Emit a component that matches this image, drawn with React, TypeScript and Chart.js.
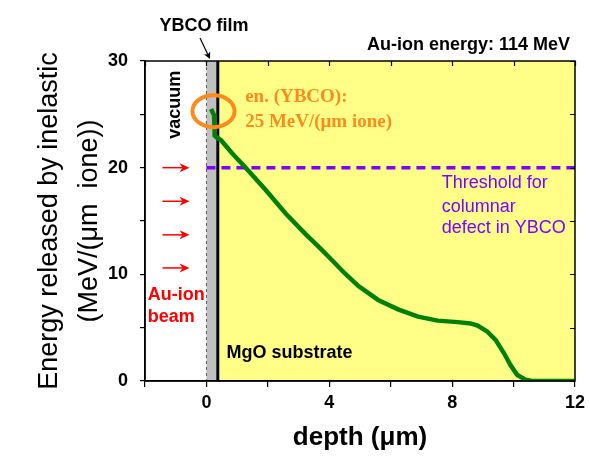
import React, { useEffect, useRef } from 'react';
import { Chart, registerables } from 'chart.js';

Chart.register(...registerables);

// ---- data ----
const depth = [0.15, 0.25, 0.27, 0.35, 0.47, 0.85, 1.28, 1.93, 2.58, 3.22, 3.65, 4.1, 4.5, 4.95, 5.59, 6.24, 6.89, 7.53, 8.18, 8.6, 8.83, 9.15, 9.42, 9.69, 9.9, 10.12, 10.39, 10.6, 12];
const energy = [25.5, 24.9, 23.0, 22.8, 22.6, 21.3, 20.0, 17.9, 15.7, 13.8, 12.6, 11.3, 10.1, 8.9, 7.6, 6.72, 6.03, 5.66, 5.52, 5.4, 5.2, 4.62, 3.84, 2.6, 1.5, 0.56, 0.12, 0, 0];
const thresholdDepth = [0, 12];
const thresholdEnergy = [20, 20];
const xTickLabels = [0, 4, 8, 12];
const yTickLabels = [0, 10, 20, 30];
const xTickSteps = [-2, 0, 2, 4, 6, 8, 10, 12];
const yTickSteps = [0, 5, 10, 15, 20, 25, 30];
const filmStart = 0;
const filmEnd = 0.33;
const substrateStart = 0.37;
const beamArrowY = [20, 16.85, 13.7, 10.6];
const beamArrowX = [-1.43, -0.55];

const SANS = '"Liberation Sans", Arial, sans-serif';
const SERIF = '"Liberation Serif", "Times New Roman", serif';

const backgroundPlugin = {
  id: 'regions',
  beforeDraw(chart: any) {
    const { ctx, chartArea: a, scales } = chart;
    const x = scales.x;
    ctx.save();
    ctx.fillStyle = '#ffffff';
    ctx.fillRect(0, 0, chart.width, chart.height);
    const xs = x.getPixelForValue(substrateStart);
    ctx.fillStyle = '#ffff88';
    ctx.fillRect(xs, a.top, a.right - xs, a.bottom - a.top);
    const x0 = x.getPixelForValue(filmStart);
    const x1 = x.getPixelForValue(filmEnd);
    ctx.fillStyle = '#c0c0c0';
    ctx.fillRect(x0, a.top, x1 - x0, a.bottom - a.top);
    ctx.strokeStyle = '#555';
    ctx.lineWidth = 1;
    ctx.setLineDash([3, 3]);
    ctx.beginPath();
    ctx.moveTo(x0, a.top);
    ctx.lineTo(x0, a.bottom);
    ctx.stroke();
    ctx.setLineDash([]);
    ctx.strokeStyle = '#000';
    ctx.lineWidth = 3;
    ctx.beginPath();
    ctx.moveTo(xs, a.top);
    ctx.lineTo(xs, a.bottom);
    ctx.stroke();
    ctx.restore();
  },
};

function arrow(ctx: any, x1: number, y1: number, x2: number, y2: number, color: string, lw: number, head: number, hw: number) {
  const ang = Math.atan2(y2 - y1, x2 - x1);
  ctx.strokeStyle = color;
  ctx.fillStyle = color;
  ctx.lineWidth = lw;
  ctx.beginPath();
  ctx.moveTo(x1, y1);
  ctx.lineTo(x2 - Math.cos(ang) * head * 0.6, y2 - Math.sin(ang) * head * 0.6);
  ctx.stroke();
  const bx = x2 - Math.cos(ang) * head;
  const by = y2 - Math.sin(ang) * head;
  const nx = -Math.sin(ang) * hw;
  const ny = Math.cos(ang) * hw;
  const mx = x2 - Math.cos(ang) * head * 0.7;
  const my = y2 - Math.sin(ang) * head * 0.7;
  ctx.beginPath();
  ctx.moveTo(x2, y2);
  ctx.lineTo(bx + nx, by + ny);
  ctx.lineTo(mx, my);
  ctx.lineTo(bx - nx, by - ny);
  ctx.closePath();
  ctx.fill();
}

const annotationPlugin = {
  id: 'annotations',
  afterDraw(chart: any) {
    const { ctx, chartArea: a, scales } = chart;
    const x = scales.x;
    const y = scales.y;
    const px = (v: number) => x.getPixelForValue(v);
    const py = (v: number) => y.getPixelForValue(v);
    ctx.save();

    // frame
    ctx.strokeStyle = '#000';
    ctx.lineWidth = 1.5;
    ctx.strokeRect(a.left, a.top, a.right - a.left, a.bottom - a.top);
    // mirror ticks (inward)
    ctx.lineWidth = 1.2;
    ctx.beginPath();
    xTickSteps.forEach((v) => {
      const p = Math.round(px(v)) + 0.5;
      ctx.moveTo(p, a.top);
      ctx.lineTo(p, a.top + 5);
    });
    yTickSteps.forEach((v) => {
      const p = Math.round(py(v)) + 0.5;
      ctx.moveTo(a.right, p);
      ctx.lineTo(a.right - 5, p);
    });
    ctx.stroke();

    // titles above plot
    ctx.fillStyle = '#000';
    ctx.textBaseline = 'middle';
    ctx.font = `bold 18px ${SANS}`;
    ctx.textAlign = 'center';
    ctx.fillText('YBCO film', 204, 26);
    ctx.textAlign = 'right';
    ctx.fillText('Au-ion energy: 114 MeV', 570, 45);
    arrow(ctx, 200, 38, 210, 59, '#000', 1.2, 7, 3.5);

    // vacuum label
    ctx.save();
    ctx.translate(px(-1.03), py(25.9));
    ctx.rotate(-Math.PI / 2);
    ctx.textAlign = 'center';
    ctx.font = `bold 18px ${SANS}`;
    ctx.fillText('vacuum', 0, 0);
    ctx.restore();

    // MgO substrate
    ctx.textAlign = 'left';
    ctx.font = `bold 18px ${SANS}`;
    ctx.fillStyle = '#000';
    ctx.fillText('MgO substrate', px(0.65), py(2.6));

    // beam arrows
    beamArrowY.forEach((v) => {
      arrow(ctx, px(beamArrowX[0]), py(v), px(beamArrowX[1]), py(v), '#ff0000', 1.5, 10, 4.5);
    });
    ctx.fillStyle = '#ff0000';
    ctx.font = `bold 18px ${SANS}`;
    ctx.fillText('Au-ion', px(-1.91), py(8.06));
    ctx.fillText('beam', px(-1.91), py(6.0));

    // orange circle + text
    ctx.strokeStyle = '#ff8a1c';
    ctx.lineWidth = 4;
    ctx.beginPath();
    ctx.ellipse(px(0.23), py(25.3), 21, 16, 0, 0, Math.PI * 2);
    ctx.stroke();
    ctx.fillStyle = '#ff8a1c';
    ctx.font = `bold 19px ${SERIF}`;
    ctx.fillText('en. (YBCO):', px(1.26), py(26.6));
    ctx.fillText('25 MeV/(μm ione)', px(1.26), py(24.3));

    // threshold text
    ctx.fillStyle = '#8000ff';
    ctx.font = `18px ${SANS}`;
    ctx.fillText('Threshold for', px(7.66), py(18.56));
    ctx.fillText('columnar', px(7.66), py(16.35));
    ctx.fillText('defect in YBCO', px(7.66), py(14.3));

    ctx.restore();
  },
};

export default function App() {
  const ref = useRef<HTMLCanvasElement | null>(null);
  useEffect(() => {
    document.body.style.margin = '0';
    const canvas = ref.current;
    if (!canvas) return;
    const chart = new Chart(canvas, {
      type: 'scatter',
      data: {
        datasets: [
          {
            data: depth.map((d, i) => ({ x: d, y: energy[i] })),
            showLine: true,
            borderColor: '#008000',
            backgroundColor: '#008000',
            borderWidth: 4.5,
            pointRadius: 0,
            tension: 0,
          },
          {
            data: thresholdDepth.map((d, i) => ({ x: d, y: thresholdEnergy[i] })),
            showLine: true,
            borderColor: '#8000ff',
            borderWidth: 3.5,
            borderDash: [9, 6],
            pointRadius: 0,
          },
        ],
      },
      options: {
        responsive: false,
        animation: false,
        devicePixelRatio: 1,
        layout: { padding: { top: 61, right: 12, left: 0, bottom: 0 } },
        plugins: { legend: { display: false }, tooltip: { enabled: false } },
        scales: {
          x: {
            type: 'linear',
            min: -2,
            max: 12,
            ticks: {
              stepSize: 2,
              autoSkip: false,
              maxRotation: 0,
              callback: (v: any) => (xTickLabels.includes(v) ? String(v) : ''),
              font: { family: SANS, size: 18, weight: 'bold' },
              color: '#000',
              padding: 5,
            },
            grid: { drawOnChartArea: false, tickLength: 6, color: '#000', lineWidth: 1.2 },
            border: { color: '#000', width: 1.5 },
            title: {
              display: true,
              text: 'depth (μm)',
              font: { family: SANS, size: 26, weight: 'bold' },
              color: '#000',
              padding: { top: 0, bottom: 4 },
            },
            afterFit: (s: any) => {
              s.height = 76;
            },
          },
          y: {
            min: 0,
            max: 30,
            ticks: {
              stepSize: 5,
              autoSkip: false,
              callback: (v: any) => (yTickLabels.includes(v) ? String(v) : ''),
              font: { family: SANS, size: 18, weight: 'bold' },
              color: '#000',
              padding: 12,
            },
            grid: { drawOnChartArea: false, tickLength: 5, color: '#000', lineWidth: 1.2 },
            border: { color: '#000', width: 1.5 },
            title: {
              display: true,
              text: ['Energy released by inelastic', '(MeV/(μm  ione))'],
              font: { family: SANS, size: 27, lineHeight: 1.48 },
              color: '#000',
              padding: { top: 30, bottom: 0 },
            },
            afterFit: (s: any) => {
              s.width = 145;
            },
          },
        },
      } as any,
      plugins: [backgroundPlugin, annotationPlugin],
    });
    return () => chart.destroy();
  }, []);
  return <canvas ref={ref} width={590} height={457} style={{ display: 'block', width: 590, height: 457 }} />;
}
